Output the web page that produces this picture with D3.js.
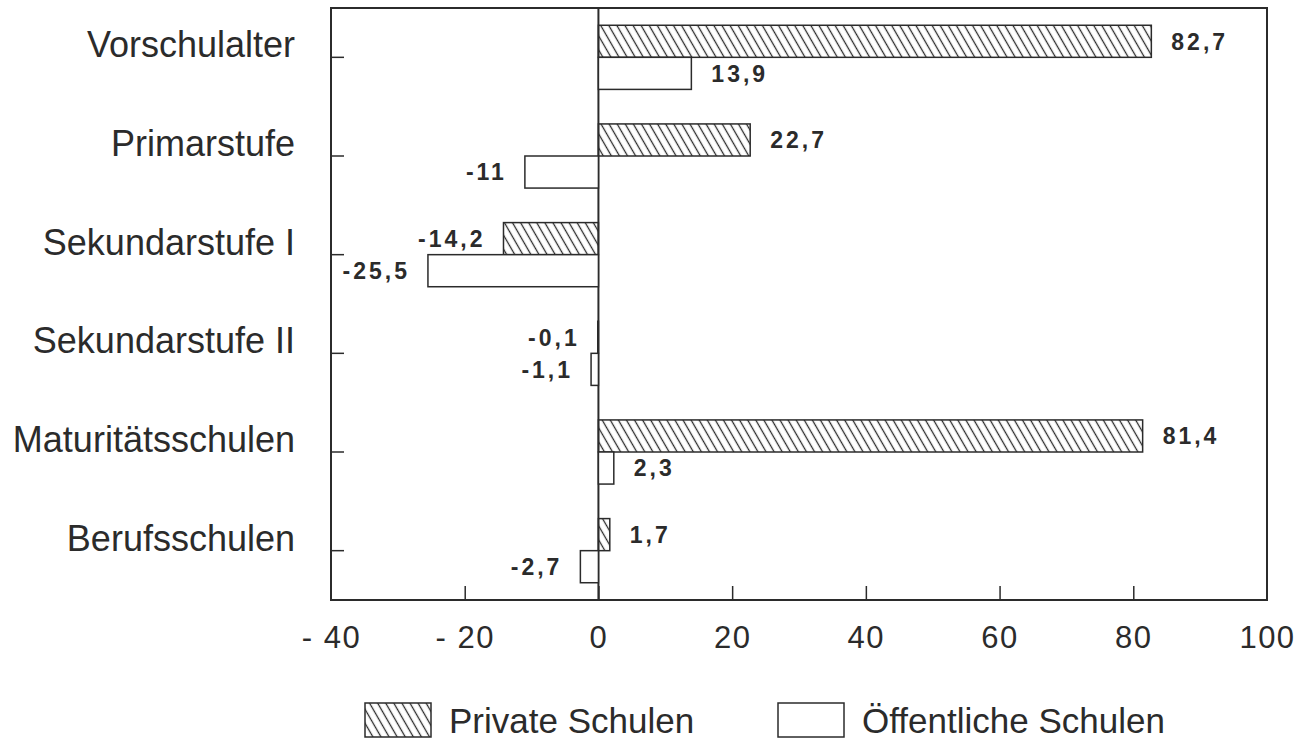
<!DOCTYPE html>
<html>
<head>
<meta charset="utf-8">
<script src="https://cdn.jsdelivr.net/npm/d3@7"></script>
<style>
  body { margin: 0; background: #fff; }
  text { font-family: "Liberation Sans", Arial, sans-serif; fill: #2b2b2b; }
</style>
</head>
<body>
<div id="chart"></div>
<script>
// data
const categories = ["Vorschulalter", "Primarstufe", "Sekundarstufe I", "Sekundarstufe II", "Maturitätsschulen", "Berufsschulen"];
const privateValues = [82.7, 22.7, -14.2, -0.1, 81.4, 1.7];
const publicValues = [13.9, -11, -25.5, -1.1, 2.3, -2.7];
const seriesNames = ["Private Schulen", "Öffentliche Schulen"];
const xTicks = [-40, -20, 0, 20, 40, 60, 80, 100];

const width = 1314, height = 740;
const ink = "#2b2b2b";

const svg = d3.select("#chart").append("svg")
    .attr("width", width)
    .attr("height", height);

// hatch pattern for private schools
const defs = svg.append("defs");
defs.append("pattern")
    .attr("id", "hatch")
    .attr("patternUnits", "userSpaceOnUse")
    .attr("width", 7)
    .attr("height", 7)
    .attr("patternTransform", "rotate(-30)")
    .append("line")
    .attr("x1", 3.5).attr("y1", 0)
    .attr("x2", 3.5).attr("y2", 7)
    .attr("stroke", ink)
    .attr("stroke-width", 1.3);

const x = d3.scaleLinear().domain([-40, 100]).range([331, 1267]);
const y = d3.scaleBand().domain(categories).range([8, 600])
    .paddingInner(0.35).paddingOuter(0.175);

const plot = {left: x.range()[0], right: x.range()[1], top: 8, bottom: 600};

// frame
svg.append("rect")
    .attr("x", plot.left).attr("y", plot.top)
    .attr("width", plot.right - plot.left)
    .attr("height", plot.bottom - plot.top)
    .attr("fill", "none")
    .attr("stroke", ink)
    .attr("stroke-width", 2);

// bottom axis, ticks pointing inwards
const xAxis = svg.append("g")
    .attr("transform", "translate(0," + plot.bottom + ")")
    .call(d3.axisBottom(x).tickValues(xTicks).tickSizeInner(-14).tickSizeOuter(0)
        .tickFormat(d => d < 0 ? "- " + Math.abs(d) : d));
xAxis.select(".domain").remove();
xAxis.selectAll("line").attr("stroke", ink).attr("stroke-width", 1.5)
    .filter(d => d === -40 || d === 100).remove();
xAxis.selectAll("text")
    .attr("y", 48)
    .attr("dy", 0)
    .style("font-size", "31px")
    .style("letter-spacing", "1.5px")
    .attr("fill", ink);

// left axis, ticks at category centres (labels sit just above the tick)
const yAxis = svg.append("g")
    .attr("transform", "translate(" + plot.left + ",0)")
    .call(d3.axisLeft(y).tickSizeInner(-13).tickSizeOuter(0).tickPadding(36));
yAxis.select(".domain").remove();
yAxis.selectAll("line").attr("stroke", ink).attr("stroke-width", 1.5);
yAxis.selectAll("text")
    .style("font-size", "36px")
    .attr("dy", "0em")
    .attr("fill", ink);

// zero line
svg.append("line")
    .attr("x1", x(0)).attr("x2", x(0))
    .attr("y1", plot.top).attr("y2", plot.bottom)
    .attr("stroke", ink)
    .attr("stroke-width", 2);

const bh = y.bandwidth() / 2;
const rows = categories.map((c, i) => ({cat: c, priv: privateValues[i], pub: publicValues[i]}));

const fmt = v => String(v).replace(".", ",");

function drawSeries(key, offset, fill) {
    svg.append("g").selectAll("rect")
        .data(rows)
        .join("rect")
        .attr("x", d => x(Math.min(0, d[key])))
        .attr("y", d => y(d.cat) + offset)
        .attr("width", d => Math.abs(x(d[key]) - x(0)))
        .attr("height", bh)
        .attr("fill", fill)
        .attr("stroke", ink)
        .attr("stroke-width", 1.5);

    svg.append("g").selectAll("text")
        .data(rows)
        .join("text")
        .attr("x", d => d[key] >= 0 ? x(d[key]) + 20 : x(d[key]) - 18)
        .attr("y", d => y(d.cat) + offset + bh / 2)
        .attr("dy", "0.36em")
        .attr("text-anchor", d => d[key] >= 0 ? "start" : "end")
        .style("font-size", "23px")
        .style("font-weight", "bold")
        .style("letter-spacing", "3px")
        .attr("fill", ink)
        .text(d => fmt(d[key]));
}

drawSeries("priv", 0, "url(#hatch)");
drawSeries("pub", bh, "#fff");

// legend
const legend = svg.append("g");
const legendItems = [
    {name: seriesNames[0], fill: "url(#hatch)", bx: 365},
    {name: seriesNames[1], fill: "#fff", bx: 778}
];
legendItems.forEach(item => {
    legend.append("rect")
        .attr("x", item.bx).attr("y", 703)
        .attr("width", 66).attr("height", 34)
        .attr("fill", item.fill)
        .attr("stroke", ink)
        .attr("stroke-width", 1.5);
    legend.append("text")
        .attr("x", item.bx + 84)
        .attr("y", 733)
        .style("font-size", "35px")
        .attr("fill", ink)
        .text(item.name);
});
</script>
</body>
</html>
